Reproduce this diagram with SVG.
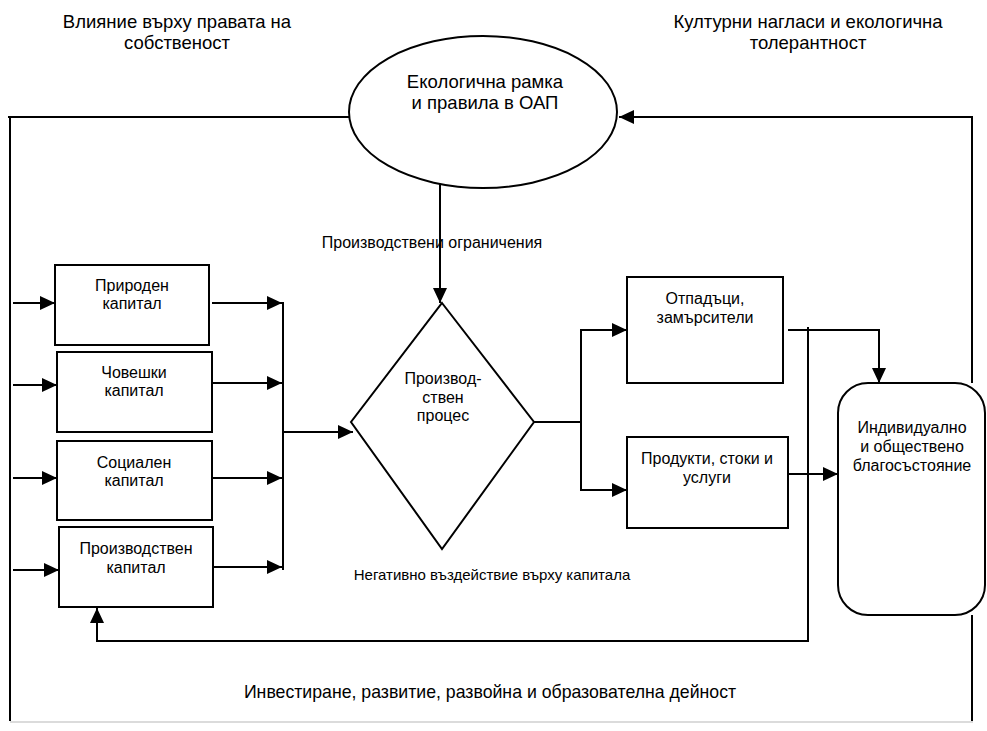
<svg xmlns="http://www.w3.org/2000/svg" width="987" height="731" viewBox="0 0 987 731">
<style>
text{font-family:"Liberation Sans",Arial,sans-serif;fill:#000;text-anchor:middle}
.big{font-size:18.5px}
.bot{font-size:17.7px}
.mid{font-size:16px}
.sm{font-size:15px}
.shape{fill:#fff;stroke:#000;stroke-width:2}
.ln{fill:none;stroke:#000;stroke-width:2}
.arr{marker-end:url(#ah)}
</style>
<defs>
<marker id="ah" markerWidth="15" markerHeight="14" refX="15" refY="7" orient="auto" markerUnits="userSpaceOnUse">
<path d="M0,0 L15,7 L0,14 z" fill="#000"/>
</marker>
</defs>
<rect width="987" height="731" fill="#fff"/>
<g id="labels">
<text class="big" x="177" y="28">Влияние върху правата на</text>
<text class="big" x="177" y="49">собственост</text>
<text class="big" x="808" y="28">Културни нагласи и екологична</text>
<text class="big" x="808" y="49">толерантност</text>
<text class="mid" x="432" y="248">Производствени ограничения</text>
<text class="sm" x="492" y="580">Негативно въздействие върху капитала</text>
<text class="bot" x="490" y="698">Инвестиране, развитие, развойна и образователна дейност</text>
</g>
<g id="connectors">
<path class="ln" d="M350,117 H8 M10,117 V721"/>
<path class="ln arr" d="M972,383 V117 H619"/>
<path class="ln" d="M972,615 V721"/>
<path d="M10,722 H973" fill="none" stroke="#cfcfcf" stroke-width="1.5"/>
<path class="ln arr" d="M440,184 V303"/>
<path class="ln arr" d="M13,303 H55"/>
<path class="ln arr" d="M13,385 H57"/>
<path class="ln arr" d="M13,478 H57"/>
<path class="ln arr" d="M13,570 H59"/>
<path class="ln arr" d="M212,303 H282"/>
<path class="ln arr" d="M213,383 H282"/>
<path class="ln arr" d="M213,478 H282"/>
<path class="ln arr" d="M214,567 H282"/>
<path class="ln" d="M283,302 V570"/>
<path class="ln arr" d="M283,432 H353"/>
<path class="ln" d="M534,422 H581 M581,329 V491"/>
<path class="ln arr" d="M580,330 H627"/>
<path class="ln arr" d="M580,490 H627"/>
<path class="ln arr" d="M788,330 H879 V383"/>
<path class="ln arr" d="M788,474 H838"/>
<path class="ln arr" d="M808,327 V641 H97 V608"/>
</g>
<g id="ellipse">
<ellipse class="shape" cx="483" cy="112" rx="134" ry="76"/>
<text class="big" x="485" y="88">Екологична рамка</text>
<text class="big" x="485" y="109">и правила в ОАП</text>
</g>
<g id="natural">
<rect class="shape" x="55" y="265" width="154" height="80"/>
<text class="mid" x="132" y="291">Природен</text>
<text class="mid" x="132" y="309">капитал</text>
</g>
<g id="human">
<rect class="shape" x="57" y="352" width="155" height="80"/>
<text class="mid" x="134" y="378">Човешки</text>
<text class="mid" x="134" y="396">капитал</text>
</g>
<g id="social">
<rect class="shape" x="57" y="441" width="155" height="79"/>
<text class="mid" x="134" y="468">Социален</text>
<text class="mid" x="134" y="486">капитал</text>
</g>
<g id="produced">
<rect class="shape" x="59" y="527" width="154" height="80"/>
<text class="mid" x="136" y="554">Производствен</text>
<text class="mid" x="136" y="573">капитал</text>
</g>
<g id="process">
<polygon class="shape" points="442,303 534,422 442,549 351,422"/>
<text class="mid" x="443" y="384">Производ-</text>
<text class="mid" x="443" y="403">ствен</text>
<text class="mid" x="443" y="421">процес</text>
</g>
<g id="waste">
<rect class="shape" x="627" y="277" width="156" height="106"/>
<text class="mid" x="705" y="304">Отпадъци,</text>
<text class="mid" x="705" y="323">замърсители</text>
</g>
<g id="products">
<rect class="shape" x="627" y="437" width="161" height="91"/>
<text class="mid" x="707" y="464">Продукти, стоки и</text>
<text class="mid" x="707" y="483">услуги</text>
</g>
<g id="wellbeing">
<rect class="shape" x="838" y="383" width="147" height="232" rx="30" ry="30"/>
<text class="mid" x="912" y="433">Индивидуално</text>
<text class="mid" x="912" y="452">и обществено</text>
<text class="mid" x="912" y="471">благосъстояние</text>
</g>
</svg>
